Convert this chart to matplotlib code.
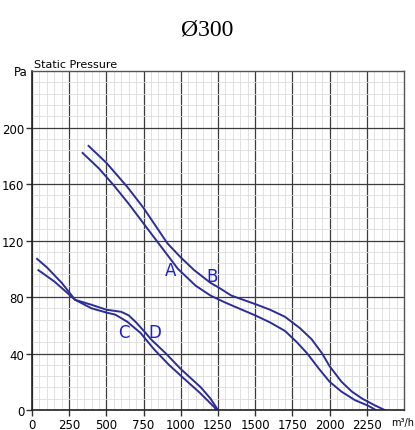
import numpy as np
import matplotlib
matplotlib.use('Agg')
import matplotlib.pyplot as plt
from matplotlib.ticker import MultipleLocator

# curve data (m3/h, Pa)
a_flow = [340, 450, 550, 650, 750, 865, 980, 1100, 1200, 1300, 1400, 1500, 1600, 1700, 1780, 1850, 1930, 2000, 2080, 2170, 2260, 2310]
a_pres = [182, 171, 159, 146, 132, 116, 100, 88, 81, 76, 71.5, 67, 62, 56, 48, 40, 29, 20, 13, 7, 3, 0]

b_flow = [380, 500, 640, 750, 910, 1000, 1090, 1200, 1250, 1340, 1500, 1600, 1700, 1800, 1880, 1950, 2000, 2080, 2150, 2220, 2300, 2370]
b_pres = [187, 175, 158, 143, 118, 108, 99, 90, 87, 81, 75, 71, 66, 58, 50, 40, 31, 20, 13, 8, 3.5, 0]

c_flow = [34, 100, 200, 290, 400, 500, 560, 640, 730, 820, 920, 1024, 1130, 1225, 1240]
c_pres = [107, 101, 90, 78, 72, 69, 67.5, 62.5, 54.5, 43, 32, 22, 12, 2, 0]

d_flow = [43, 150, 290, 400, 500, 600, 650, 700, 760, 800, 900, 1000, 1135, 1200, 1250]
d_pres = [99, 91, 78, 74.5, 71, 69.5, 67, 62, 55, 50, 40, 29, 16, 8, 0]

curve_labels = ['A', 'B', 'C', 'D']
label_x = [932, 1209, 615, 824]
label_y = [99, 95, 55, 55]

x_ticks = [0, 250, 500, 750, 1000, 1250, 1500, 1750, 2000, 2250]
y_ticks = [0, 40, 80, 120, 160, 200]

narrow = 'DejaVu Sans Condensed'
line_col = '#2d2d96'
text_col = '#1e1ed2'

fig = plt.figure(figsize=(4.15, 4.31), dpi=100)
ax = fig.add_axes([0.0771, 0.0464, 0.8964, 0.7865])

ax.set_xlim(0, 2500)
ax.set_ylim(0, 240)

# grid: minor every 50 / 8, major every 250 / 40
ax.xaxis.set_major_locator(MultipleLocator(250))
ax.xaxis.set_minor_locator(MultipleLocator(50))
ax.yaxis.set_major_locator(MultipleLocator(40))
ax.yaxis.set_minor_locator(MultipleLocator(8))
ax.grid(which='minor', color='#dcdcdc', linewidth=0.6)
ax.grid(which='major', color='#3c3c3c', linewidth=0.9)
ax.set_axisbelow(True)

ax.set_xticks(x_ticks)
ax.set_yticks(y_ticks)
ax.set_xticklabels([str(t) for t in x_ticks], family=narrow, fontsize=8.5)
ax.set_yticklabels([str(t) for t in y_ticks], family=narrow, fontsize=8.5)
ax.tick_params(which='major', length=4, width=1, pad=1.5, color='#333333')
ax.tick_params(which='minor', length=0)
ax.tick_params(axis='x', pad=2)

for side in ['left', 'bottom']:
    ax.spines[side].set_color('#222222')
    ax.spines[side].set_linewidth(1.2)
for side in ['top', 'right']:
    ax.spines[side].set_color('#555555')
    ax.spines[side].set_linewidth(1.0)

ax.plot(a_flow, a_pres, color=line_col, linewidth=1.4)
ax.plot(b_flow, b_pres, color=line_col, linewidth=1.4)
ax.plot(c_flow, c_pres, color=line_col, linewidth=1.4)
ax.plot(d_flow, d_pres, color=line_col, linewidth=1.4)

for lab, lx, ly in zip(curve_labels, label_x, label_y):
    ax.text(lx, ly, lab, color=text_col, fontsize=12, family=narrow,
            ha='center', va='center')

# title and axis captions
fig.text(0.5, 0.93, 'Ø300', family='Liberation Serif', fontsize=17,
         ha='center', va='center')
ax.text(-0.012, 1.0, 'Pa', transform=ax.transAxes, family=narrow, fontsize=8.5,
        ha='right', va='center')
ax.text(0.005, 1.005, 'Static Pressure', transform=ax.transAxes, family=narrow,
        fontsize=8, ha='left', va='bottom')
ax.text(0.966, -0.035, 'm³/h', transform=ax.transAxes, family=narrow,
        fontsize=7, ha='left', va='center')

fig.savefig('out.png', dpi=100)
